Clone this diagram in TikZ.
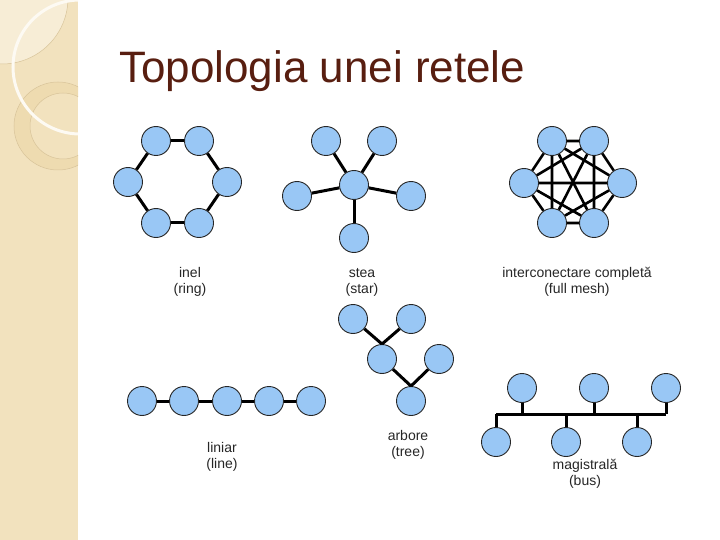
\documentclass[tikz,border=0pt]{standalone}
\usepackage{fontspec}
\setmainfont{Liberation Sans}
\usepackage{tikz}

\definecolor{stripbg}{RGB}{242,226,190}
\definecolor{stripup}{RGB}{247,237,214}
\definecolor{stripband}{RGB}{238,219,176}
\definecolor{stripline}{RGB}{216,196,154}
\definecolor{titlebrown}{RGB}{88,30,16}
\definecolor{nodeblue}{RGB}{153,199,245}

\begin{document}
\begin{tikzpicture}[
x=1pt, y=-1pt, % one unit = one pixel of the slide
every node/.style={inner sep=0pt},
host/.style={circle, draw=black!85, line width=0.9pt, fill=nodeblue, minimum size=29pt},
wire/.style={line width=3pt, black},
caption/.style={align=center, font=\fontsize{14}{16}\selectfont, text=black!85}
]
\useasboundingbox (0,0) rectangle (720,540);

% ================= Background =================
\fill[stripbg] (0,0) rectangle (78,540);
\begin{scope}
\clip (0,0) rectangle (78,540);
\fill[stripup, draw=stripline, line width=0.5pt] (2,-2) circle (66);
\fill[stripband, even odd rule, draw=stripline, line width=0.5pt]
  (58,126) circle (44) (63,126) circle (33);
\draw[white!70!stripup, line width=3pt] (80,67) circle (67);
\end{scope}

% ================= Title =================
\node[anchor=base west, text=titlebrown, font=\fontsize{44}{50}\selectfont]
  (title) at (119,83) {Topologia unei retele};

% ================= Ring =================
\node[host] (r1) at (156,141) {};
\node[host] (r2) at (199,141) {};
\node[host] (r3) at (227,182) {};
\node[host] (r4) at (199,223) {};
\node[host] (r5) at (156,223) {};
\node[host] (r6) at (128,182) {};
\draw[wire] (r1) -- (r2);
\draw[wire] (r2) -- (r3);
\draw[wire] (r3) -- (r4);
\draw[wire] (r4) -- (r5);
\draw[wire] (r5) -- (r6);
\draw[wire] (r6) -- (r1);
\node[caption] (ringlbl) at (190,282) {inel\\(ring)};

% ================= Star =================
\node[host] (sc) at (354,185) {};
\node[host] (s1) at (326,141) {};
\node[host] (s2) at (382,141) {};
\node[host] (s3) at (411,196) {};
\node[host] (s4) at (354,238) {};
\node[host] (s5) at (297,196) {};
\draw[wire] (sc) -- (s1);
\draw[wire] (sc) -- (s2);
\draw[wire] (sc) -- (s3);
\draw[wire] (sc) -- (s4);
\draw[wire] (sc) -- (s5);
\node[caption] (starlbl) at (362,282) {stea\\(star)};

% ================= Full mesh =================
\node[host] (m1) at (552,141) {};
\node[host] (m2) at (594,141) {};
\node[host] (m3) at (622,183) {};
\node[host] (m4) at (594,223) {};
\node[host] (m5) at (552,223) {};
\node[host] (m6) at (524,183) {};
\draw[wire, line width=2.6pt] (m1) -- (m2) (m2) -- (m3) (m3) -- (m4)
  (m4) -- (m5) (m5) -- (m6) (m6) -- (m1);
\draw[wire, line width=2.6pt] (m1) -- (m3) (m1) -- (m4) (m1) -- (m5);
\draw[wire, line width=2.6pt] (m2) -- (m4) (m2) -- (m5) (m2) -- (m6);
\draw[wire, line width=2.6pt] (m3) -- (m5) (m3) -- (m6) (m4) -- (m6);
\node[caption] (meshlbl) at (577,282) {interconectare completă\\(full mesh)};

% ================= Line =================
\node[host] (l1) at (142,401) {};
\node[host] (l2) at (184,401) {};
\node[host] (l3) at (227,401) {};
\node[host] (l4) at (269,401) {};
\node[host] (l5) at (311,401) {};
\draw[wire] (l1) -- (l2);
\draw[wire] (l2) -- (l3);
\draw[wire] (l3) -- (l4);
\draw[wire] (l4) -- (l5);
\node[caption] (linelbl) at (222,457) {liniar\\(line)};

% ================= Tree =================
\node[host] (t1) at (353,319) {};
\node[host] (t2) at (411,319) {};
\node[host] (t3) at (382,359) {};
\node[host] (t4) at (439,359) {};
\node[host] (t5) at (411,401) {};
\draw[wire] (t1) -- (t3.north);
\draw[wire] (t2) -- (t3.north);
\draw[wire] (t3) -- (t5.north);
\draw[wire] (t4) -- (t5.north);
\node[caption] (treelbl) at (408,445) {arbore\\(tree)};

% ================= Bus =================
\node[host] (b1) at (522,388) {};
\node[host] (b2) at (594,388) {};
\node[host] (b3) at (666,388) {};
\node[host] (b4) at (496,442) {};
\node[host] (b5) at (566,442) {};
\node[host] (b6) at (637,442) {};
\coordinate (busL) at (496,414);
\coordinate (busR) at (666,414);
\draw[wire] (busL) -- (busR);
\draw[wire] (b1) -- (b1 |- busL);
\draw[wire] (b2) -- (b2 |- busL);
\draw[wire] (b3) -- (b3 |- busL);
\draw[wire] (b4) -- (b4 |- busL);
\draw[wire] (b5) -- (b5 |- busL);
\draw[wire] (b6) -- (b6 |- busL);
\node[caption] (buslbl) at (585,474) {magistrală\\(bus)};

\end{tikzpicture}
\end{document}
